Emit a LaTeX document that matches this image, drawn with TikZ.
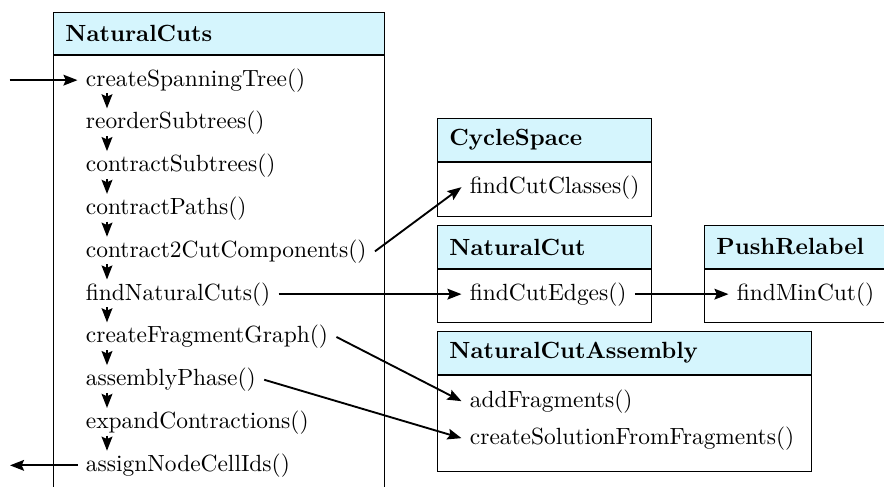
\documentclass[tikz,border=0pt]{standalone}
\usetikzlibrary{arrows.meta}
\definecolor{hdrfill}{RGB}{213,245,253}
\newcommand\pxu{0.427pt}
\begin{document}
\begin{tikzpicture}[x=\pxu, y=-\pxu,
  classhead/.style={draw, line width=0.4pt, fill=hdrfill, anchor=north west,
    minimum width=#1*\pxu, text width={(#1-24)*\pxu}, minimum height=43*\pxu,
    inner xsep=12*\pxu, inner ysep=0pt, align=left, font=\bfseries},
  classbody/.style={draw, line width=0.4pt, anchor=north west,
    minimum width=#1*\pxu, inner sep=0pt},
  method/.style={anchor=base west, inner xsep=3.4pt, inner ysep=0.4pt},
  flow/.style={-{Stealth[length=6pt,width=4.6pt,inset=1pt]}, line width=0.8pt}]

\useasboundingbox (0,0) rectangle (884,486);
\clip (0,0) rectangle (884,486);

% class boxes
\node[classhead=331, minimum height=42*\pxu] (ncH) at (53,12) {NaturalCuts};
\node[classbody=331, minimum height=466*\pxu] (ncB) at (ncH.south west) {};

\node[classhead=214] (csH) at (437,118) {CycleSpace};
\node[classbody=214, minimum height=54*\pxu] (csB) at (csH.south west) {};

\node[classhead=214] (ncutH) at (437,225) {NaturalCut};
\node[classbody=214, minimum height=53*\pxu] (ncutB) at (ncutH.south west) {};

\node[classhead=220] (prH) at (704,225) {PushRelabel};
\node[classbody=220, minimum height=53*\pxu] (prB) at (prH.south west) {};

\node[classhead=374] (ncaH) at (437,331) {NaturalCutAssembly};
\node[classbody=374, minimum height=96*\pxu] (ncaB) at (ncaH.south west) {};

% methods of NaturalCuts
\node[method] (cst) at (77.5,86.0)  {createSpanningTree()};
\node[method] (ros) at (77.5,128.8) {reorderSubtrees()};
\node[method] (cos) at (77.5,171.6) {contractSubtrees()};
\node[method] (cop) at (77.5,214.4) {contractPaths()};
\node[method] (c2c) at (77.5,257.2) {contract2CutComponents()};
\node[method] (fnc) at (77.5,300.0) {findNaturalCuts()};
\node[method] (cfg) at (77.5,342.8) {createFragmentGraph()};
\node[method] (asp) at (77.5,385.6) {assemblyPhase()};
\node[method] (exc) at (77.5,428.4) {expandContractions()};
\node[method] (anc) at (77.5,471.2) {assignNodeCellIds()};

% methods of the other classes
\node[method] (fcc) at (461.5,193) {findCutClasses()};
\node[method] (fce) at (461.5,300) {findCutEdges()};
\node[method] (fmc) at (728.5,300) {findMinCut()};
\node[method] (adf) at (461.5,407) {addFragments()};
\node[method] (csf) at (461.5,444) {createSolutionFromFragments()};

% call sequence inside NaturalCuts
\foreach \a/\b in {cst/ros, ros/cos, cos/cop, cop/c2c, c2c/fnc,
                   fnc/cfg, cfg/asp, asp/exc, exc/anc}
  \draw[flow] ([shift={(29.5,0)}]\a.south west) -- ([shift={(29.5,-1.5)}]\b.north west);

% entry and exit
\path (cst.west) ++(-68,0) coordinate (in);
\path (anc.west) ++(-67.5,0) coordinate (out);
\draw[flow] (in) -- (cst.west);
\draw[flow] (anc.west) -- (out);

% calls into other classes
\draw[flow] (c2c.east) -- (fcc.west);
\draw[flow] (fnc.east) -- (fce.west);
\draw[flow] (fce.east) -- (fmc.west);
\draw[flow] (cfg.east) -- (adf.west);
\draw[flow] (asp.east) -- (csf.west);
\end{tikzpicture}
\end{document}
